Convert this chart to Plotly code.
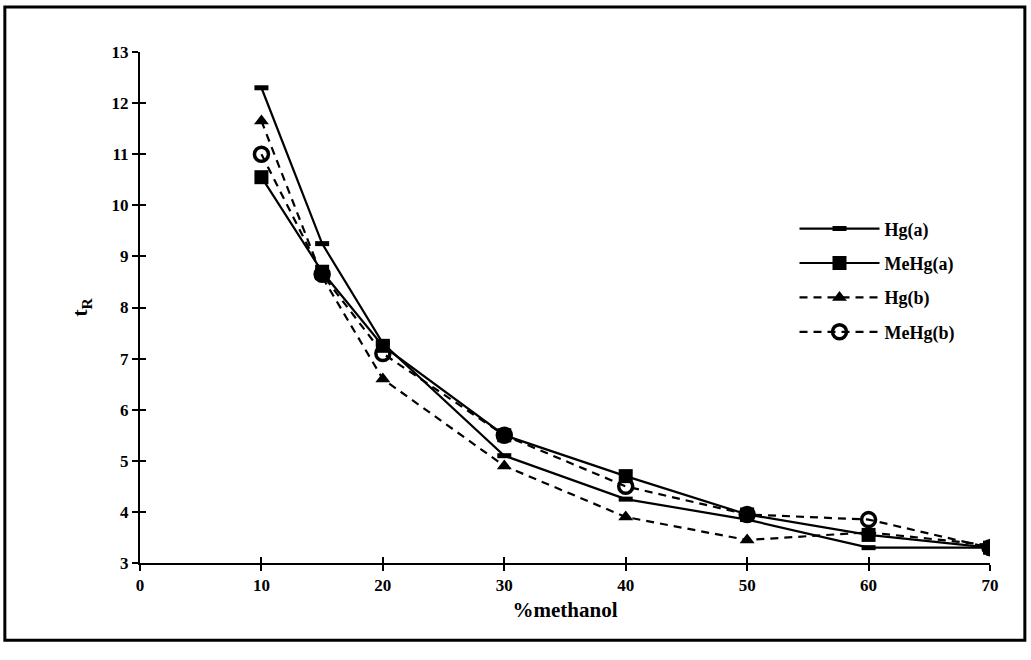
import plotly.graph_objects as go

# % methanol in the mobile phase
methanol = [10, 15, 20, 30, 40, 50, 60, 70]

# retention times (min)
hg_a = [12.3, 9.25, 7.3, 5.1, 4.25, 3.85, 3.3, 3.3]
mehg_a = [10.55, 8.7, 7.25, 5.5, 4.7, 3.95, 3.55, 3.3]
hg_b = [11.65, 8.6, 6.6, 4.9, 3.9, 3.45, 3.6, 3.35]
mehg_b = [11.0, 8.65, 7.1, 5.5, 4.5, 3.95, 3.85, 3.3]

x_ticks = [0, 10, 20, 30, 40, 50, 60, 70]
y_ticks = list(range(3, 14))

FONT = "Liberation Serif"

fig = go.Figure()

fig.add_trace(go.Scatter(
    x=methanol, y=hg_a, name="<b>Hg(a)</b>", mode="lines+markers",
    legendgroup="g1",
    line=dict(color="black", width=2.2, dash="solid"),
    marker=dict(symbol="line-ew", size=10, line=dict(color="black", width=5)),
))
fig.add_trace(go.Scatter(
    x=methanol, y=mehg_a, name="<b>MeHg(a)</b>", mode="lines+markers",
    legendgroup="g2",
    line=dict(color="black", width=2.2, dash="solid"),
    marker=dict(symbol="square", size=14, color="black"),
))
fig.add_trace(go.Scatter(
    x=methanol, y=hg_b, name="<b>Hg(b)</b>", mode="lines+markers",
    legendgroup="g3",
    line=dict(color="black", width=2.2, dash="8px,6px"),
    marker=dict(symbol="triangle-up", size=13, color="black"),
))
fig.add_trace(go.Scatter(
    x=methanol, y=mehg_b, name="<b>MeHg(b)</b>", mode="lines+markers",
    legendgroup="g4",
    line=dict(color="black", width=2.2, dash="8px,6px"),
    marker=dict(symbol="circle-open", size=14, color="black",
                line=dict(color="black", width=3.5)),
))

# inward half of the crossing tick marks
fig.add_trace(go.Scatter(x=[0], y=[3], xaxis="x2", yaxis="y2", mode="markers",
                         marker=dict(size=1, color="rgba(0,0,0,0)"),
                         showlegend=False, hoverinfo="skip"))

axis_common = dict(
    showgrid=False, zeroline=False, showline=True, linecolor="black",
    linewidth=2, ticks="outside", ticklen=6, tickwidth=2, tickcolor="black",
    tickfont=dict(family=FONT, size=17, color="black", weight="bold"),
)

fig.update_layout(
    width=1031, height=660,
    margin=dict(l=140, r=41, t=52, b=97),
    paper_bgcolor="white", plot_bgcolor="white",
    font=dict(family=FONT, color="black"),
    xaxis=dict(range=[0, 70], tickvals=x_ticks, **axis_common,
               title=dict(text="<b>%methanol</b>", standoff=8,
                          font=dict(family=FONT, size=21, color="black"))),
    yaxis=dict(range=[3, 13], tickvals=y_ticks, **axis_common,
               title=dict(text="<b>t<sub>R</sub></b>", standoff=18,
                          font=dict(family=FONT, size=22, color="black"))),
    xaxis2=dict(range=[0, 70], tickvals=x_ticks, overlaying="x",
                showgrid=False, zeroline=False, showticklabels=False,
                ticks="inside", ticklen=6, tickwidth=2, tickcolor="black",
                anchor="y2", side="bottom"),
    yaxis2=dict(range=[3, 13], tickvals=y_ticks, overlaying="y",
                showgrid=False, zeroline=False, showticklabels=False,
                ticks="inside", ticklen=6, tickwidth=2, tickcolor="black",
                anchor="x2", side="left"),
    legend=dict(x=0.77, y=0.69, xanchor="left", yanchor="top",
                itemwidth=80, tracegroupgap=8,
                font=dict(family=FONT, size=18, color="black"),
                bgcolor="rgba(0,0,0,0)"),
    showlegend=True,
)

# outer frame around the figure
fig.add_shape(type="rect", xref="paper", yref="paper",
              x0=-0.159, x1=1.041, y0=-0.151, y1=1.088,
              line=dict(color="black", width=3), layer="below")

fig.write_html("out.html")
